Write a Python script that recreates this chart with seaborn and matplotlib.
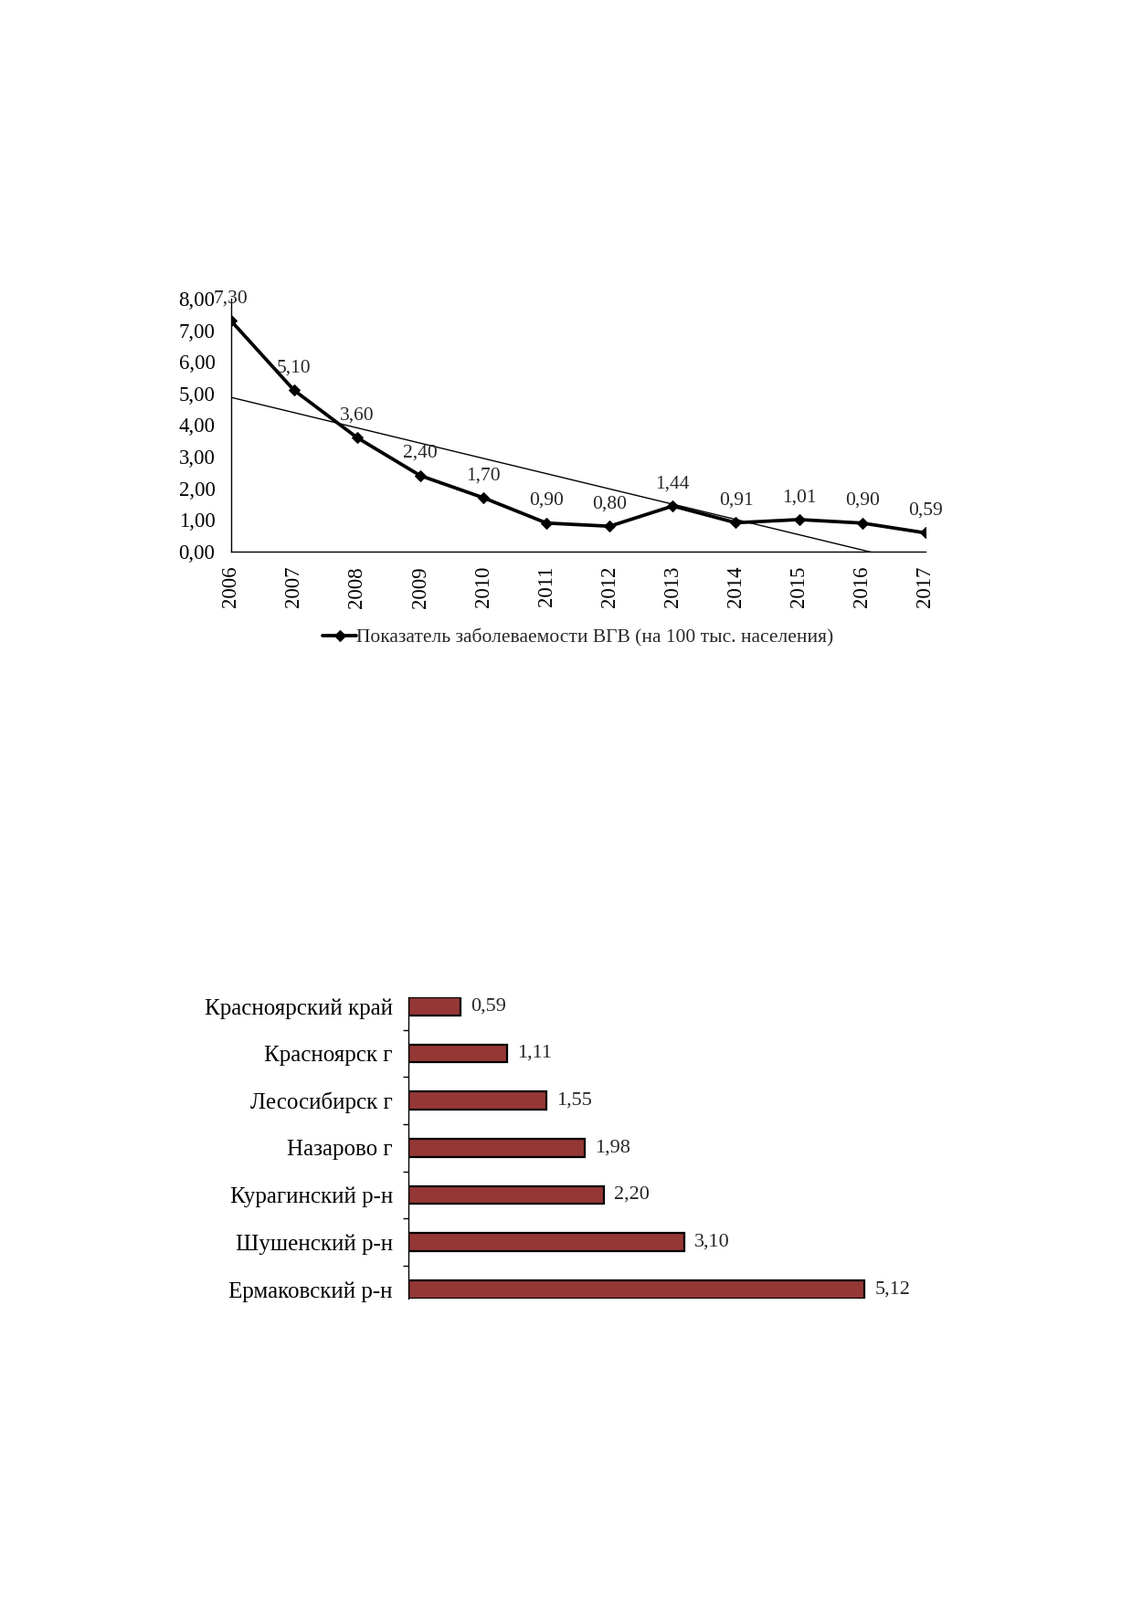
import matplotlib
matplotlib.use("Agg")
import matplotlib.pyplot as plt
from matplotlib.ticker import FuncFormatter
import seaborn as sns
import pandas as pd

# incidence of viral hepatitis B per 100k, 2006-2017
years = [2006, 2007, 2008, 2009, 2010, 2011, 2012, 2013, 2014, 2015, 2016, 2017]
rate = [7.30, 5.10, 3.60, 2.40, 1.70, 0.90, 0.80, 1.44, 0.91, 1.01, 0.90, 0.59]
series_name = "Показатель заболеваемости ВГВ (на 100 тыс. населения)"

# 2017 by territory
areas = ["Красноярский край", "Красноярск г", "Лесосибирск г", "Назарово г",
         "Курагинский р-н", "Шушенский р-н", "Ермаковский р-н"]
area_rate = [0.59, 1.11, 1.55, 1.98, 2.20, 3.10, 5.12]

sns.set_style("white")
plt.rcParams['font.family'] = ['Liberation Serif', 'DejaVu Serif']

def comma(v, pos=None):
    return f"{v:.2f}".replace(".", ",")

fig = plt.figure(figsize=(12.39, 17.52), dpi=100)

# ---- line chart ----
df = pd.DataFrame({"year": years, "rate": rate})
ax = fig.add_axes([0.2040, 0.6553, 0.6134, 0.1581])
sns.regplot(data=df, x="year", y="rate", scatter=False, ci=None, ax=ax,
            line_kws=dict(color="black", lw=1.0))
sns.lineplot(data=df, x="year", y="rate", ax=ax, color="black", lw=2.7,
             marker="D", markersize=6, markeredgecolor="black", label=series_name)
for x, y in zip(years, rate):
    ax.annotate(comma(y), (x, y), xytext=(0, 17.5), textcoords="offset points",
                ha="center", va="center", fontsize=15.5)
ax.set_xlim(2006, 2017)
ax.set_ylim(0, 8)
ax.set_xticks(years)
ax.set_xticklabels([str(y) for y in years], rotation=90)
ax.set_yticks(range(0, 9))
ax.yaxis.set_major_formatter(FuncFormatter(comma))
ax.set_xlabel("")
ax.set_ylabel("")
for s in ["top", "right"]:
    ax.spines[s].set_visible(False)
for s in ["left", "bottom"]:
    ax.spines[s].set_color("black")
    ax.spines[s].set_linewidth(1.0)
ax.tick_params(axis="both", direction="out", length=4.5, width=1.0, colors="black",
               labelsize=16.5)
ax.tick_params(axis="y", pad=8)
ax.tick_params(axis="x", pad=7)
ax.legend(loc="center", bbox_to_anchor=(0.5, -0.343), frameon=False, fontsize=15.5,
          handlelength=1.7, handletextpad=0.0)

# ---- bar chart ----
bdf = pd.DataFrame({"area": areas, "val": area_rate})
bx = fig.add_axes([0.3604, 0.1886, 0.4726, 0.1881])
sns.barplot(data=bdf, x="val", y="area", orient="h", color="#953735",
            saturation=1, edgecolor="black", linewidth=1.6, width=0.38, ax=bx)
for i, v in enumerate(area_rate):
    bx.annotate(comma(v), (v, i), xytext=(8, 0), textcoords="offset points",
                ha="left", va="center", fontsize=16)
bx.set_xlim(0, 6)
bx.set_ylim(6.19, -0.19)
bx.set_xlabel("")
bx.set_ylabel("")
bx.set_xticks([])
for s in ["top", "right", "bottom"]:
    bx.spines[s].set_visible(False)
bx.spines["left"].set_color("black")
bx.spines["left"].set_linewidth(1.0)
bx.set_yticks([i + 0.5 for i in range(6)], minor=True)
bx.tick_params(axis="y", which="major", length=0, pad=12, labelsize=18,
               colors="black")
bx.tick_params(axis="y", which="minor", length=4, width=1.0, direction="out",
               color="black", left=True)

fig.savefig("out.png", dpi=100, facecolor="white")
